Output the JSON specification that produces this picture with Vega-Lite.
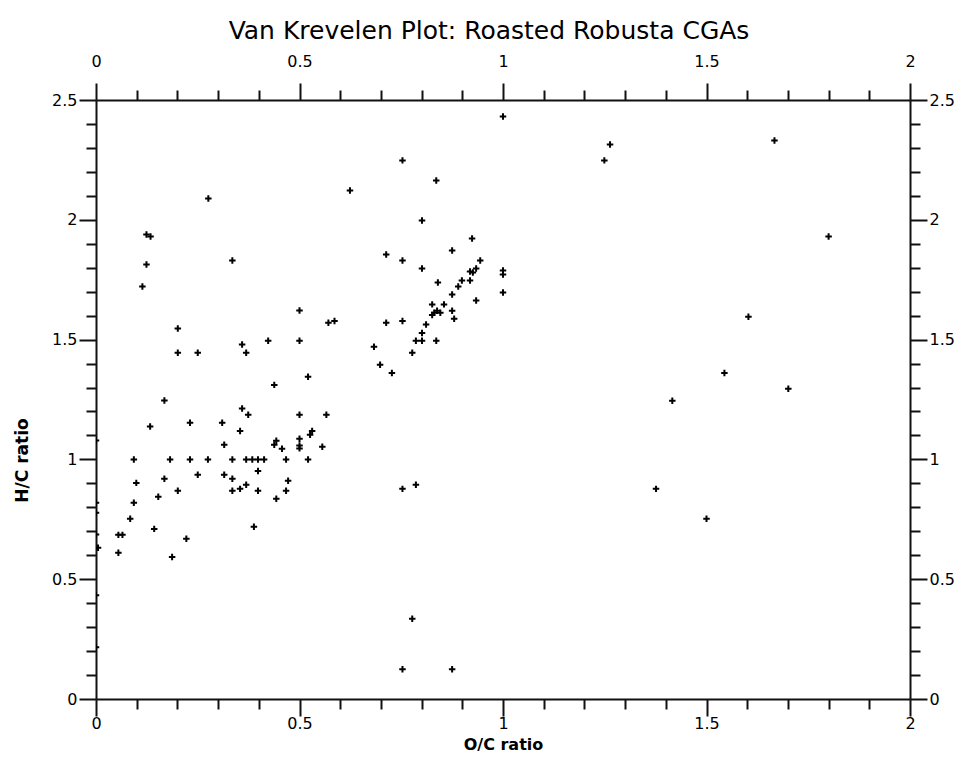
{
  "$schema": "https://vega.github.io/schema/vega-lite/v6.json",
  "autosize": {"type": "none"},
  "padding": {"left": 96, "top": 100, "right": 63, "bottom": 81},
  "width": 814,
  "height": 599,
  "background": "white",
  "title": {"text": "Van Krevelen Plot: Roasted Robusta CGAs", "font": "DejaVu Sans", "fontSize": 25, "fontWeight": "normal", "color": "black", "anchor": "middle", "offset": 9, "dx": -14},
  "config": {
    "view": {"stroke": null},
    "axis": {"grid": false, "domainColor": "#111", "domainWidth": 2, "tickColor": "#111", "tickWidth": 2, "labelColor": "black", "labelFont": "DejaVu Sans", "labelFontSize": 16, "titleFont": "DejaVu Sans", "titleFontSize": 17, "titleFontWeight": "bold", "titleColor": "black", "labelFlush": false, "labelOverlap": false}
  },
  "data": {"values": [
    {"oc": 0.276, "hc": 2.089}, {"oc": 0.124, "hc": 1.939}, {"oc": 0.134, "hc": 1.930}, {"oc": 0.124, "hc": 1.813}, {"oc": 0.114, "hc": 1.722}, {"oc": 0.335, "hc": 1.830},
    {"oc": 0.5, "hc": 1.621}, {"oc": 0.201, "hc": 1.546}, {"oc": 0.201, "hc": 1.445}, {"oc": 0.250, "hc": 1.445}, {"oc": 0.359, "hc": 1.480}, {"oc": 0.369, "hc": 1.445},
    {"oc": 0.423, "hc": 1.495}, {"oc": 0.5, "hc": 1.495}, {"oc": 0.438, "hc": 1.311}, {"oc": 0.5, "hc": 1.186}, {"oc": 0.168, "hc": 1.246}, {"oc": 0.133, "hc": 1.137},
    {"oc": 0.231, "hc": 1.153}, {"oc": 0.310, "hc": 1.153}, {"oc": 0.359, "hc": 1.212}, {"oc": 0.374, "hc": 1.186}, {"oc": 0.354, "hc": 1.119}, {"oc": 0.315, "hc": 1.061},
    {"oc": 0.438, "hc": 1.061}, {"oc": 0.443, "hc": 1.078}, {"oc": 0.457, "hc": 1.044}, {"oc": 0.5, "hc": 1.086}, {"oc": 0.5, "hc": 1.058}, {"oc": 0.5, "hc": 1.046},
    {"oc": 0.093, "hc": 1.0}, {"oc": 0.182, "hc": 1.0}, {"oc": 0.231, "hc": 1.0}, {"oc": 0.275, "hc": 1.0}, {"oc": 0.335, "hc": 1.0}, {"oc": 0.369, "hc": 1.0},
    {"oc": 0.384, "hc": 1.0}, {"oc": 0.398, "hc": 1.0}, {"oc": 0.413, "hc": 1.0}, {"oc": 0.467, "hc": 1.0}, {"oc": 0.521, "hc": 1.0},
    {"oc": 0.099, "hc": 0.902}, {"oc": 0.168, "hc": 0.919}, {"oc": 0.250, "hc": 0.936}, {"oc": 0.315, "hc": 0.936}, {"oc": 0.335, "hc": 0.919}, {"oc": 0.398, "hc": 0.952},
    {"oc": 0.472, "hc": 0.911}, {"oc": 0.369, "hc": 0.894}, {"oc": 0.201, "hc": 0.869}, {"oc": 0.335, "hc": 0.869}, {"oc": 0.354, "hc": 0.877}, {"oc": 0.398, "hc": 0.869},
    {"oc": 0.467, "hc": 0.869}, {"oc": 0.093, "hc": 0.819}, {"oc": 0.153, "hc": 0.844}, {"oc": 0.443, "hc": 0.836}, {"oc": 0.084, "hc": 0.752},
    {"oc": 0.055, "hc": 0.685}, {"oc": 0.065, "hc": 0.685}, {"oc": 0.055, "hc": 0.610}, {"oc": 0.143, "hc": 0.710}, {"oc": 0.187, "hc": 0.593}, {"oc": 0.222, "hc": 0.669},
    {"oc": 0.388, "hc": 0.719},
    {"oc": 0.0, "hc": 1.079}, {"oc": 0.0, "hc": 0.819}, {"oc": 0.0, "hc": 0.777}, {"oc": 0.0, "hc": 0.687}, {"oc": 0.005, "hc": 0.631}, {"oc": 0.0, "hc": 0.433}, {"oc": 0.0, "hc": 0.216},
    {"oc": 0.753, "hc": 2.248}, {"oc": 0.836, "hc": 2.164}, {"oc": 0.624, "hc": 2.122}, {"oc": 0.801, "hc": 1.997}, {"oc": 0.924, "hc": 1.922}, {"oc": 0.713, "hc": 1.855},
    {"oc": 0.753, "hc": 1.830}, {"oc": 0.875, "hc": 1.872}, {"oc": 0.944, "hc": 1.830}, {"oc": 0.801, "hc": 1.797}, {"oc": 0.840, "hc": 1.738}, {"oc": 0.919, "hc": 1.784},
    {"oc": 0.926, "hc": 1.780}, {"oc": 0.934, "hc": 1.797}, {"oc": 0.899, "hc": 1.747}, {"oc": 0.890, "hc": 1.722}, {"oc": 0.919, "hc": 1.747}, {"oc": 0.875, "hc": 1.688},
    {"oc": 0.934, "hc": 1.663}, {"oc": 0.826, "hc": 1.647}, {"oc": 0.855, "hc": 1.647},
    {"oc": 0.875, "hc": 1.620}, {"oc": 0.880, "hc": 1.587}, {"oc": 0.826, "hc": 1.603}, {"oc": 0.831, "hc": 1.612}, {"oc": 0.838, "hc": 1.620}, {"oc": 0.846, "hc": 1.612},
    {"oc": 0.811, "hc": 1.563}, {"oc": 0.801, "hc": 1.528}, {"oc": 0.786, "hc": 1.495}, {"oc": 0.801, "hc": 1.495}, {"oc": 0.836, "hc": 1.495}, {"oc": 0.777, "hc": 1.445},
    {"oc": 0.713, "hc": 1.570}, {"oc": 0.753, "hc": 1.578}, {"oc": 0.683, "hc": 1.470}, {"oc": 0.698, "hc": 1.395}, {"oc": 0.727, "hc": 1.361}, {"oc": 0.571, "hc": 1.570},
    {"oc": 0.586, "hc": 1.578}, {"oc": 0.521, "hc": 1.345}, {"oc": 0.566, "hc": 1.186}, {"oc": 0.531, "hc": 1.119}, {"oc": 0.526, "hc": 1.103}, {"oc": 0.556, "hc": 1.053},
    {"oc": 0.753, "hc": 0.877}, {"oc": 0.786, "hc": 0.894},
    {"oc": 0.777, "hc": 0.335}, {"oc": 0.753, "hc": 0.124}, {"oc": 0.875, "hc": 0.124},
    {"oc": 1.0, "hc": 2.431}, {"oc": 1.263, "hc": 2.314}, {"oc": 1.249, "hc": 2.248}, {"oc": 1.0, "hc": 1.788}, {"oc": 1.0, "hc": 1.772}, {"oc": 1.0, "hc": 1.697},
    {"oc": 1.416, "hc": 1.245}, {"oc": 1.376, "hc": 0.877},
    {"oc": 1.667, "hc": 2.331}, {"oc": 1.800, "hc": 1.930}, {"oc": 1.603, "hc": 1.595}, {"oc": 1.544, "hc": 1.361}, {"oc": 1.701, "hc": 1.295}, {"oc": 1.500, "hc": 0.752}
  ]},
  "layer": [
    {
      "mark": {"type": "point", "shape": "M-1,0L1,0M0,-1L0,1", "filled": false, "stroke": "black", "strokeWidth": 2, "size": 42, "opacity": 1, "clip": true},
      "encoding": {
        "x": {"field": "oc", "type": "quantitative", "scale": {"domain": [0, 2], "nice": false, "zero": false},
              "axis": {"orient": "bottom", "values": [0, 0.5, 1, 1.5, 2], "format": "~g", "tickSize": 17, "labelPadding": -1, "title": "O/C ratio", "titlePadding": 5, "titleFontSize": 16}},
        "y": {"field": "hc", "type": "quantitative", "scale": {"domain": [0, 2.5], "nice": false, "zero": false},
              "axis": {"orient": "left", "values": [0, 0.5, 1, 1.5, 2, 2.5], "format": "~g", "tickSize": 17, "labelPadding": 2, "title": "H/C ratio", "titlePadding": 20, "titleY": 360}}
      }
    },
    {
      "mark": {"type": "point", "opacity": 0},
      "encoding": {
        "x": {"field": "oc", "type": "quantitative", "scale": {"domain": [0, 2], "nice": false, "zero": false},
              "axis": {"orient": "top", "values": [0, 0.5, 1, 1.5, 2], "format": "~g", "tickSize": 17, "labelPadding": 14, "title": null}},
        "y": {"field": "hc", "type": "quantitative", "scale": {"domain": [0, 2.5], "nice": false, "zero": false},
              "axis": {"orient": "right", "values": [0, 0.5, 1, 1.5, 2, 2.5], "format": "~g", "tickSize": 17, "labelPadding": 2, "title": null}}
      }
    },
    {
      "mark": {"type": "point", "opacity": 0},
      "encoding": {
        "x": {"field": "oc", "type": "quantitative", "scale": {"domain": [0, 2], "nice": false, "zero": false},
              "axis": {"orient": "bottom", "values": [0.1, 0.2, 0.3, 0.4, 0.6, 0.7, 0.8, 0.9, 1.1, 1.2, 1.3, 1.4, 1.6, 1.7, 1.8, 1.9], "labels": false, "domain": false, "tickSize": 10, "title": null}},
        "y": {"field": "hc", "type": "quantitative", "scale": {"domain": [0, 2.5], "nice": false, "zero": false},
              "axis": {"orient": "left", "values": [0.1, 0.2, 0.3, 0.4, 0.6, 0.7, 0.8, 0.9, 1.1, 1.2, 1.3, 1.4, 1.6, 1.7, 1.8, 1.9, 2.1, 2.2, 2.3, 2.4], "labels": false, "domain": false, "tickSize": 10, "title": null}}
      }
    },
    {
      "mark": {"type": "point", "opacity": 0},
      "encoding": {
        "x": {"field": "oc", "type": "quantitative", "scale": {"domain": [0, 2], "nice": false, "zero": false},
              "axis": {"orient": "top", "values": [0.1, 0.2, 0.3, 0.4, 0.6, 0.7, 0.8, 0.9, 1.1, 1.2, 1.3, 1.4, 1.6, 1.7, 1.8, 1.9], "labels": false, "domain": false, "tickSize": 10, "title": null}},
        "y": {"field": "hc", "type": "quantitative", "scale": {"domain": [0, 2.5], "nice": false, "zero": false},
              "axis": {"orient": "right", "values": [0.1, 0.2, 0.3, 0.4, 0.6, 0.7, 0.8, 0.9, 1.1, 1.2, 1.3, 1.4, 1.6, 1.7, 1.8, 1.9, 2.1, 2.2, 2.3, 2.4], "labels": false, "domain": false, "tickSize": 10, "title": null}}
      }
    }
  ],
  "resolve": {"axis": {"x": "independent", "y": "independent"}}
}
